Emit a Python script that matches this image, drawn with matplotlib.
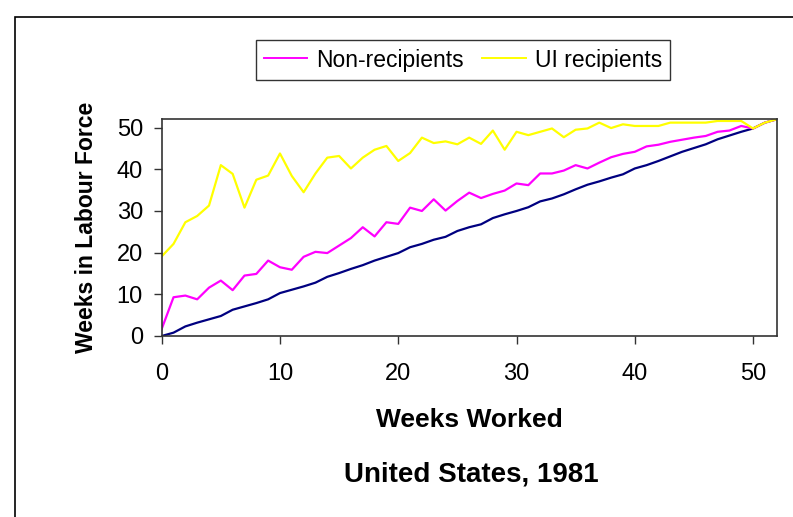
import matplotlib.pyplot as plt
from matplotlib.patches import Rectangle

plt.rcParams['font.family'] = ['Liberation Sans', 'DejaVu Sans']

weeks = list(range(53))

baseline = [0, 0.8, 2.3, 3.2, 4.0, 4.8, 6.3, 7.1, 7.9, 8.8,
            10.3, 11.1, 11.9, 12.8, 14.2, 15.1, 16.1, 17.0, 18.1, 19.0,
            19.9, 21.3, 22.1, 23.1, 23.8, 25.2, 26.1, 26.8, 28.3, 29.2,
            30.0, 30.9, 32.3, 33.0, 34.0, 35.2, 36.3, 37.1, 38.0, 38.8,
            40.2, 41.0, 42.0, 43.1, 44.2, 45.1, 46.0, 47.2, 48.1, 49.0,
            49.8, 51.2, 52.0]

non_recipients = [1.7, 9.3, 9.7, 8.8, 11.6, 13.3, 11.0, 14.5, 14.9, 18.1,
                  16.5, 15.9, 19.0, 20.2, 19.9, 21.7, 23.5, 26.1, 23.9, 27.3,
                  26.9, 30.8, 30.0, 32.8, 30.1, 32.4, 34.4, 33.1, 34.1, 34.9,
                  36.6, 36.2, 39.0, 39.0, 39.7, 41.0, 40.2, 41.6, 42.9, 43.7,
                  44.2, 45.5, 45.9, 46.6, 47.1, 47.6, 48.0, 49.0, 49.3, 50.4,
                  49.8, 51.2, 52.0]

ui_recipients = [19.1, 22.1, 27.3, 28.8, 31.3, 41.0, 38.9, 30.8, 37.5, 38.5,
                 43.8, 38.4, 34.5, 39.0, 42.8, 43.2, 40.2, 42.8, 44.7, 45.6,
                 42.0, 43.9, 47.6, 46.3, 46.7, 46.0, 47.6, 46.1, 49.3, 44.7,
                 49.0, 48.2, 49.0, 49.8, 47.7, 49.5, 49.8, 51.2, 49.9, 50.8,
                 50.4, 50.4, 50.4, 51.2, 51.2, 51.2, 51.2, 51.6, 51.6, 51.6,
                 49.8, 51.2, 52.0]

W, H = 793, 517
fig = plt.figure(figsize=(W / 100, H / 100), dpi=100)

# outer chart border (left and top edges visible)
fig.patches.append(Rectangle((15 / W, -0.1), 1.2, 1 - 17 / H + 0.1,
                             transform=fig.transFigure, fill=False,
                             edgecolor='black', linewidth=1.2))

ax = fig.add_axes([161.7 / W, 1 - 336 / H, 615 / W, (336 - 119.3) / H])

ax.plot(weeks, baseline, color='#000080', linewidth=1.6, label='_nolegend_')
ax.plot(weeks, non_recipients, color='#FF00FF', linewidth=1.6, label='Non-recipients')
ax.plot(weeks, ui_recipients, color='#FFFF00', linewidth=1.6, label='UI recipients')

ax.set_xlim(0, 52)
ax.set_ylim(0, 52)
ax.set_xticks(range(0, 51, 10))
ax.set_yticks(range(0, 51, 10))
ax.tick_params(axis='x', direction='out', length=5.5, width=1, colors='#333333',
               labelcolor='black', labelsize=17, pad=14)
ax.tick_params(axis='y', direction='out', length=5.5, width=1, colors='#333333',
               labelcolor='black', labelsize=17, pad=8)
for s in ax.spines.values():
    s.set_color('#333333')
    s.set_linewidth(1.2)

ax.set_ylabel('Weeks in Labour Force', fontsize=16.5, fontweight='bold')
ax.yaxis.set_label_coords((98 - 161.7) / 615, 0.5)
ax.set_xlabel('Weeks Worked', fontsize=19, fontweight='bold')
ax.xaxis.set_label_coords((469 - 161.7) / 615, -(408 - 336) / (336 - 119.3))

fig.text(471 / W, 1 - 474 / H, 'United States, 1981', fontsize=20,
         fontweight='bold', ha='center', va='center')

leg = fig.legend(loc='center', bbox_to_anchor=(463 / W, 1 - 60 / H), ncol=2,
                 fontsize=16.5, frameon=True, fancybox=False, edgecolor='black',
                 handlelength=1.9, handletextpad=0.4, columnspacing=0.8,
                 borderpad=0.35, borderaxespad=0)
leg.get_frame().set_linewidth(1.0)
for h in leg.get_lines():
    h.set_linewidth(1.4)

fig.savefig('out.png', dpi=100)
